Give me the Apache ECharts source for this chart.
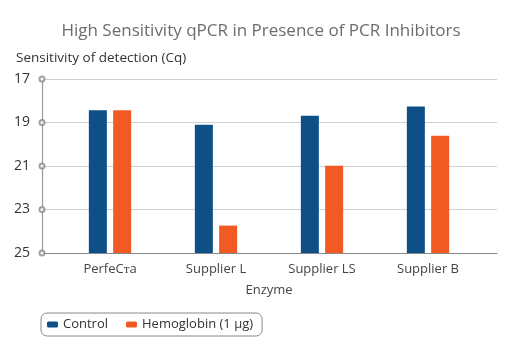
<!DOCTYPE html>
<html><head><meta charset="utf-8">
<script src="https://cdn.jsdelivr.net/npm/echarts@6/dist/echarts.min.js"></script>
<style>html,body{margin:0;padding:0;background:#fff}#c{width:522px;height:356px}</style>
</head><body><div id="c"></div>
<script>
const categories = ['PerfeC\u1D1Ba', 'Supplier L', 'Supplier LS', 'Supplier B'];
const controlCq = [18.44, 19.10, 18.69, 18.26];
const hemoglobinCq = [18.44, 23.74, 20.99, 19.61];
const yTicks = [17, 19, 21, 23, 25];
const axisBottom = 25, axisTop = 17;
const FONT = 'Open Sans';

const chart = echarts.init(document.getElementById('c'), null, {renderer: 'canvas'});
const toHeight = v => axisBottom - v;
const grid = {top: 79, height: 174};
chart.setOption({
  animation: false,
  textStyle: {fontFamily: FONT},
  title: {text: 'High Sensitivity qPCR in Presence of PCR Inhibitors', left: 'center', top: 18,
    textStyle: {fontFamily: FONT, fontSize: 17, fontWeight: 'normal', color: '#6d6d6d'}},
  legend: {left: 41, top: 313, padding: [5, 9, 5, 6], itemGap: 18, itemWidth: 11, itemHeight: 6,
    icon: 'roundRect', borderColor: '#888', borderWidth: 1, borderRadius: 6,
    textStyle: {fontFamily: FONT, fontSize: 13, color: '#333'},
    data: ['Control', 'Hemoglobin (1 \u00b5g)']},
  grid: [
    {left: 42, right: 25, top: grid.top, height: grid.height},
    {left: 57, width: 424, top: grid.top, height: grid.height}
  ],
  xAxis: [
    {gridIndex: 0, type: 'value', min: 0, max: 1, show: true, axisLabel: {show: false}, axisTick: {show: false},
      splitLine: {show: false}, axisLine: {show: true, lineStyle: {color: '#888', width: 1.2}}},
    {gridIndex: 1, type: 'category', data: categories, axisLine: {show: false}, axisTick: {show: false},
      axisLabel: {margin: 10, fontSize: 13, color: '#444', fontFamily: FONT},
      name: 'Enzyme', nameLocation: 'middle', nameGap: 31,
      nameTextStyle: {fontSize: 13, color: '#444', fontFamily: FONT}}
  ],
  yAxis: [
    {gridIndex: 0, type: 'value', min: 0, max: axisBottom - axisTop, interval: 2,
      name: 'Sensitivity of detection (Cq)', nameLocation: 'end', nameGap: 14,
      nameTextStyle: {align: 'left', padding: [0, 0, 0, -26], fontSize: 13.5, color: '#333', fontFamily: FONT},
      axisLine: {show: true, lineStyle: {color: '#999', width: 1.2}}, axisTick: {show: false},
      axisLabel: {margin: 12, fontSize: 14, color: '#333', fontFamily: FONT, formatter: v => String(axisBottom - v)},
      splitLine: {show: true, lineStyle: {color: '#cfcfcf', width: 1.2}}},
    {gridIndex: 1, type: 'value', min: 0, max: axisBottom - axisTop, interval: 2, show: false}
  ],
  series: [
    {name: 'Control', type: 'bar', xAxisIndex: 1, yAxisIndex: 1, barWidth: 18, barGap: '35%',
      itemStyle: {color: '#0e4f85'}, data: controlCq.map(toHeight)},
    {name: 'Hemoglobin (1 \u00b5g)', type: 'bar', xAxisIndex: 1, yAxisIndex: 1, barWidth: 18, barGap: '35%',
      itemStyle: {color: '#f15a22'}, data: hemoglobinCq.map(toHeight)},
    {name: 'ticks', type: 'scatter', xAxisIndex: 0, yAxisIndex: 0, symbol: 'emptyCircle', symbolSize: 5,
      clip: false, itemStyle: {color: '#888', borderColor: '#888', borderWidth: 1}, silent: true, z: 5,
      data: yTicks.map(t => [0, axisBottom - t])}
  ]
});
</script></body></html>
